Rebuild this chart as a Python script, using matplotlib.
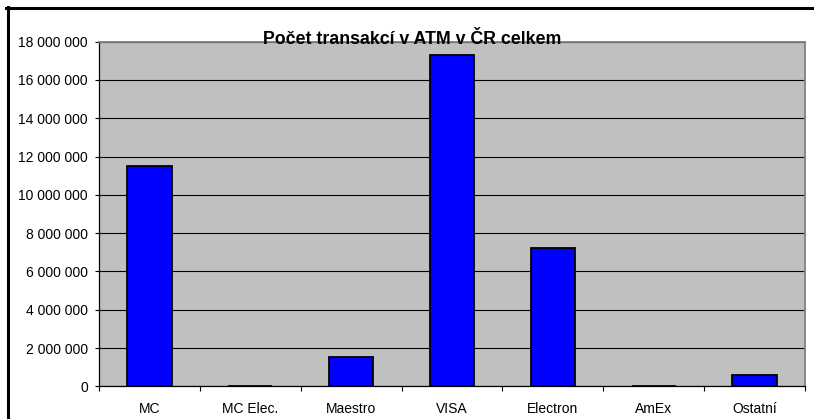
import matplotlib
matplotlib.use("Agg")
import matplotlib.pyplot as plt
from matplotlib.lines import Line2D
from matplotlib.ticker import FuncFormatter, FixedLocator

# ── Data ─────────────────────────────────────────────────────────────────────
categories = ["MC", "MC Elec.", "Maestro", "VISA", "Electron", "AmEx", "Ostatní"]
transakce = [11_520_000, 30_000, 1_540_000, 17_300_000, 7_230_000, 20_000, 570_000]
y_ticks = list(range(0, 18_000_001, 2_000_000))

plt.rcParams["font.family"] = ["Liberation Sans", "DejaVu Sans"]

W, H = 814, 419
fig = plt.figure(figsize=(W / 100, H / 100), dpi=100)
fig.patch.set_facecolor("white")

ax = fig.add_axes([99 / W, 1 - 386.3 / H, 706 / W, (386.3 - 41.7) / H])
ax.set_facecolor("#C0C0C0")

x = list(range(len(categories)))
ax.bar(x, transakce, width=0.44, color="#0000FF", edgecolor="black",
       linewidth=1.3, zorder=3)

ax.set_xlim(-0.5, len(categories) - 0.5)
ax.set_ylim(0, 18_000_000)
ax.set_yticks(y_ticks)
ax.yaxis.set_major_formatter(FuncFormatter(lambda v, p: f"{int(v):,}".replace(",", " ")))
ax.yaxis.grid(True, color="black", linewidth=0.8, zorder=1)
ax.set_axisbelow(True)

ax.set_xticks(x)
ax.set_xticklabels(categories)
ax.xaxis.set_minor_locator(FixedLocator([i - 0.5 for i in range(len(categories) + 1)]))
ax.tick_params(axis="x", which="major", length=0, pad=11, labelsize=10)
ax.tick_params(axis="x", which="minor", length=3.5, width=0.8, color="black")
ax.tick_params(axis="y", length=3, width=0.8, pad=5, labelsize=10)

for side in ("top", "right"):
    ax.spines[side].set_color("#808080")
    ax.spines[side].set_linewidth(1.3)
for side in ("left", "bottom"):
    ax.spines[side].set_color("black")
    ax.spines[side].set_linewidth(0.9)

fig.text(412 / W, 1 - 43.5 / H, "Počet transakcí v ATM v ČR celkem",
         ha="center", va="baseline", fontsize=12.8, fontweight="bold", zorder=5)

# outer chart border (only left and top visible in crop)
fig.add_artist(Line2D([7.5 / W, 7.5 / W], [0, 1 - 7 / H], transform=fig.transFigure,
                      color="black", linewidth=2.2))
fig.add_artist(Line2D([6 / W, 1], [1 - 8.5 / H, 1 - 8.5 / H], transform=fig.transFigure,
                      color="black", linewidth=2.2))

fig.savefig("out.png", dpi=100)
